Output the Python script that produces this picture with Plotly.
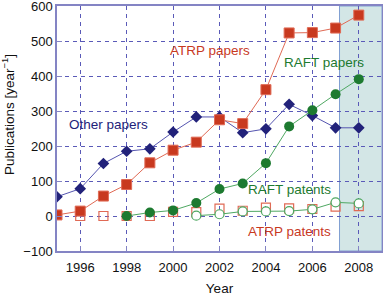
import plotly.graph_objects as go

years_other = [1995, 1996, 1997, 1998, 1999, 2000, 2001, 2002, 2003, 2004, 2005, 2006, 2007, 2008]
other_papers = [55, 78, 150, 185, 192, 240, 283, 283, 238, 249, 319, 287, 252, 252]

years_atrp = [1995, 1996, 1997, 1998, 1999, 2000, 2001, 2002, 2003, 2004, 2005, 2006, 2007, 2008]
atrp_papers = [3, 14, 57, 90, 152, 188, 211, 275, 264, 361, 523, 524, 537, 574]

years_raft = [1998, 1999, 2000, 2001, 2002, 2003, 2004, 2005, 2006, 2007, 2008]
raft_papers = [0, 10, 16, 37, 77, 93, 151, 256, 302, 348, 391]

years_raft_pat = [2001, 2002, 2003, 2004, 2005, 2006, 2007, 2008]
raft_patents = [1, 5, 13, 13, 14, 19, 39, 36]

years_atrp_pat = [1996, 1997, 1998, 1999, 2000, 2001, 2002, 2003, 2004, 2005, 2006, 2007, 2008]
atrp_patents = [0, 0, 0, 0, 12, 11, 21, 15, 24, 22, 20, 27, 28]

NAVY = "#22227a"
NAVY_L = "#5555b0"
RED = "#c8391f"
RED_L = "#e06a55"
GREEN = "#1d7a30"
GREEN_L = "#4fa862"
AXC = "#8484c4"
GRIDC = "#5a5ab8"

fig = go.Figure()

fig.add_trace(go.Scatter(x=years_atrp_pat, y=atrp_patents, mode="markers",
                         marker=dict(symbol="square-open", size=9, color=RED_L, line=dict(width=1.2)),
                         showlegend=False))
fig.add_trace(go.Scatter(x=years_raft_pat, y=raft_patents, mode="lines+markers",
                         line=dict(color=GREEN_L, width=1),
                         marker=dict(symbol="circle", size=9, color="white",
                                     line=dict(color=GREEN_L, width=1.2)),
                         showlegend=False))
fig.add_trace(go.Scatter(x=years_other, y=other_papers, mode="lines+markers",
                         line=dict(color=NAVY_L, width=1),
                         marker=dict(symbol="diamond", size=9, color=NAVY),
                         showlegend=False))
fig.add_trace(go.Scatter(x=years_atrp, y=atrp_papers, mode="lines+markers",
                         line=dict(color=RED_L, width=1),
                         marker=dict(symbol="square", size=10, color=RED,
                                     line=dict(color=RED_L, width=1)),
                         showlegend=False))
fig.add_trace(go.Scatter(x=years_raft, y=raft_papers, mode="lines+markers",
                         line=dict(color=GREEN_L, width=1),
                         marker=dict(symbol="circle", size=10, color=GREEN),
                         showlegend=False))

fig.add_shape(type="rect", xref="x", yref="y", x0=2007.17, x1=2009, y0=-100, y1=600,
              fillcolor="#d3e6e6", line=dict(color="#7f9fd2", width=1), layer="below")

font_fam = "Liberation Sans, Arial, sans-serif"
FS = 13.5
TFS = 13
ann = [
    ("ATRP papers", 2001.6, 472, RED),
    ("RAFT papers", 2006.5, 438, GREEN),
    ("Other papers", 1997.2, 261, NAVY),
    ("RAFT patents", 2005.0, 76, GREEN),
    ("ATRP patents", 2005.0, -45, RED),
]
for t, x, y, c in ann:
    fig.add_annotation(text=t, x=x, y=y, xref="x", yref="y", showarrow=False,
                       font=dict(color=c, size=FS, family=font_fam))

# y-axis title placed as rotated annotation
fig.add_annotation(text="Publications [year<sup>−1</sup>]", xref="paper", yref="paper",
                   x=(8 - 57) / 325, y=(251 - 115) / 245, xanchor="center", yanchor="middle",
                   textangle=-90, showarrow=False,
                   font=dict(size=FS, color="#111", family=font_fam))

fig.update_xaxes(range=[1995, 2009], tickvals=[1996, 1998, 2000, 2002, 2004, 2006, 2008],
                 showgrid=True, gridcolor=GRIDC, griddash="4px,4px", gridwidth=1,
                 showline=True, linecolor=AXC, linewidth=1.5, mirror=True,
                 ticks="inside", ticklen=5, tickcolor=AXC, zeroline=False,
                 automargin=False, ticklabeloverflow="allow", ticklabelstandoff=4,
                 title=dict(text="Year", standoff=10, font=dict(size=FS, color="#111")),
                 tickfont=dict(size=TFS, color="#111"))
fig.update_yaxes(range=[-100, 600], tickvals=[-100, 0, 100, 200, 300, 400, 500, 600],
                 showgrid=True, gridcolor=GRIDC, griddash="4px,4px", gridwidth=1,
                 showline=True, linecolor=AXC, linewidth=1.5, mirror=True,
                 ticks="inside", ticklen=5, tickcolor=AXC, zeroline=False,
                 automargin=False, ticklabeloverflow="allow",
                 tickfont=dict(size=TFS, color="#111"))

fig.update_layout(width=383, height=296, margin=dict(l=57, r=1, t=6, b=45, autoexpand=False),
                  plot_bgcolor="white", paper_bgcolor="white",
                  font=dict(family=font_fam, color="#111"))

fig.write_html("out.html", config={"displayModeBar": False},
               post_script="document.body.style.margin='0';")
